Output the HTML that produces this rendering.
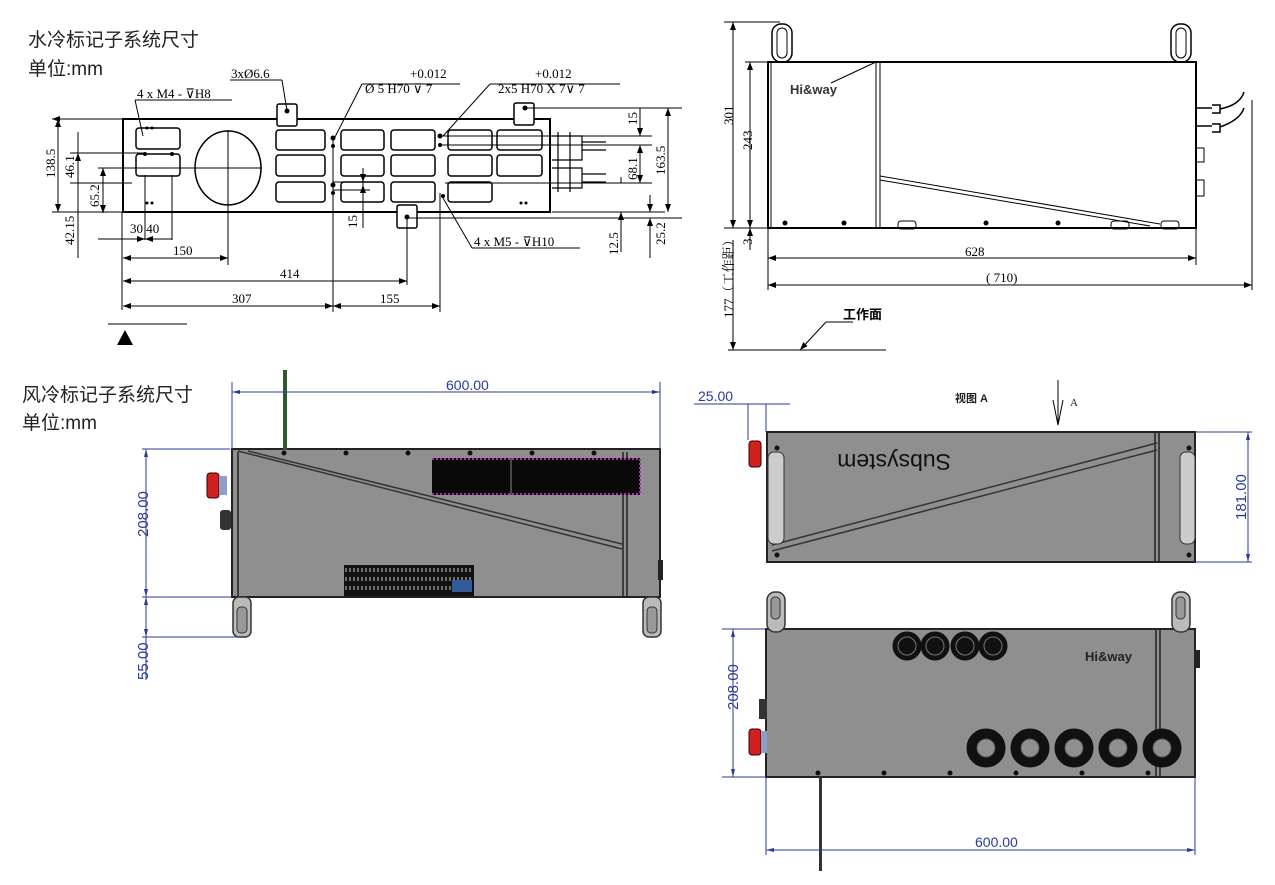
<!DOCTYPE html>
<html><head><meta charset="utf-8">
<style>
html,body{margin:0;padding:0;background:#fff;}
svg{display:block;}
.cn{font-family:"Liberation Sans","Noto Sans CJK SC",sans-serif;}
.sf{font-family:"Liberation Serif","Noto Serif CJK SC",serif;}
.bl{font-family:"Liberation Sans",sans-serif;fill:#2a3a9a;}
</style></head><body>
<svg width="1275" height="885" viewBox="0 0 1275 885" xmlns="http://www.w3.org/2000/svg">
<defs>
<marker id="ar" markerWidth="8" markerHeight="6" refX="8" refY="3" orient="auto-start-reverse"><path d="M0,0 L8,3 L0,6 z" fill="#000"/></marker>
<marker id="ab" markerWidth="8" markerHeight="6" refX="8" refY="3" orient="auto-start-reverse"><path d="M0,1 L8,3 L0,5 z" fill="#2a3a9a"/></marker>
</defs>

<!-- Titles -->
<text x="28" y="46" class="cn" font-size="19" fill="#222">水冷标记子系统尺寸</text>
<text x="28" y="75" class="cn" font-size="19" fill="#222">单位:mm</text>
<text x="22" y="401" class="cn" font-size="19" fill="#222">风冷标记子系统尺寸</text>
<text x="22" y="429" class="cn" font-size="19" fill="#222">单位:mm</text>

<!-- ===== TOP LEFT PLATE ===== -->
<g stroke="#000" fill="none" stroke-width="1">
<rect x="123" y="119" width="427" height="93" stroke-width="2"/>
<!-- left cells -->
<rect x="136" y="128" width="44" height="21" rx="3" stroke-width="1.5"/>
<rect x="136" y="154" width="44" height="22" rx="3" stroke-width="1.5"/>
<ellipse cx="228" cy="168" rx="33" ry="37" stroke-width="1.5"/>
<!-- grid cells -->
<g stroke-width="1.5">
<rect x="276" y="130" width="49" height="20" rx="3"/><rect x="341" y="130" width="43" height="20" rx="3"/><rect x="391" y="130" width="44" height="20" rx="3"/><rect x="448" y="130" width="44" height="20" rx="3"/><rect x="497" y="130" width="45" height="20" rx="3"/>
<rect x="276" y="155" width="49" height="21" rx="3"/><rect x="341" y="155" width="43" height="21" rx="3"/><rect x="391" y="155" width="44" height="21" rx="3"/><rect x="448" y="155" width="44" height="21" rx="3"/><rect x="497" y="155" width="45" height="21" rx="3"/>
<rect x="276" y="182" width="49" height="20" rx="3"/><rect x="341" y="182" width="43" height="20" rx="3"/><rect x="391" y="182" width="44" height="20" rx="3"/><rect x="448" y="182" width="44" height="20" rx="3"/>
</g>
<!-- tabs -->
<rect x="277" y="104" width="20" height="22" fill="#fff" stroke-width="1.5" rx="2"/>
<rect x="514" y="103" width="20" height="22" fill="#fff" stroke-width="1.5" rx="2"/>
<rect x="397" y="205" width="20" height="23" fill="#fff" stroke-width="1.5" rx="2"/>
<!-- connectors right -->
<path d="M552,136 h30 v24 h-30 M582,142 h24 M582,150 h24 M552,168 h30 v20 h-30 M582,174 h24 M582,182 h24 M558,132 v60 M570,132 v60" stroke-width="1.2"/>
<!-- center lines -->
<path d="M192,168 H262 M228,130 V206"/>
<!-- dimension lines -->
<path d="M52,119 H123 M52,212 H123 M58,119 V212" marker-start="url(#ar)" />
<path d="M58,119 V212" marker-start="url(#ar)" marker-end="url(#ar)"/>
<path d="M70,153 H145 M70,183 H132 M78,132 V258 M78,153 V212" />
<path d="M78,166 V153" marker-end="url(#ar)"/>
<path d="M98,168 H192 M103,168 V213"/>
<path d="M103,182 V168" marker-end="url(#ar)"/><path d="M103,200 V213" marker-end="url(#ar)"/>
<path d="M145,175 V240 M172,175 V240 M122,212 V310"/>
<path d="M98,239 H145" marker-end="url(#ar)"/><path d="M172,239 H145" marker-end="url(#ar)"/>
<path d="M123,258 H228" marker-start="url(#ar)" marker-end="url(#ar)"/><path d="M228,168 V265"/>
<path d="M123,281 H407" marker-start="url(#ar)" marker-end="url(#ar)"/><path d="M407,217 V285"/>
<path d="M123,306 H333" marker-start="url(#ar)" marker-end="url(#ar)"/>
<path d="M333,306 H440" marker-start="url(#ar)" marker-end="url(#ar)"/>
<path d="M333,138 V312 M440,193 V312"/>
<path d="M333,182 H370 M333,190 H370 M363,168 V228"/>
<path d="M363,200 V185" marker-end="url(#ar)"/><path d="M363,168 V182" marker-end="url(#ar)"/>
<!-- right dims -->
<path d="M525,108 H682 M440,136 H652 M440,145 H652 M445,183 H652 M408,218 H682 M552,212 H665"/>
<path d="M668,108 V212" marker-start="url(#ar)" marker-end="url(#ar)"/>
<path d="M640,108 V136" marker-end="url(#ar)"/><path d="M640,145 V183" marker-start="url(#ar)" marker-end="url(#ar)"/>
<path d="M650,195 V212" marker-end="url(#ar)"/><path d="M650,258 V218" marker-end="url(#ar)"/>
<path d="M621,177 V183" /><path d="M621,252 V212" marker-end="url(#ar)"/>
<!-- leaders -->
<path d="M135,100 H232 M135,100 L143,136"/>
<path d="M230,80 H282 M282,80 L287,111"/>
<path d="M362,84 H460 M362,84 L335,137"/>
<path d="M490,84 H620 M490,84 L443,136"/>
<path d="M472,248 H580 M472,248 L443,198"/>
<!-- base marker -->
<path d="M108,324 H187"/>
</g>
<polygon points="117,345 125,330 133,345" fill="#000"/>
<g fill="#000">
<circle cx="333" cy="138" r="2.5"/><circle cx="333" cy="146" r="2"/><circle cx="333" cy="185" r="2.5"/><circle cx="333" cy="193" r="2"/>
<circle cx="440" cy="136" r="2.5"/><circle cx="440" cy="145" r="2"/><circle cx="443" cy="196" r="2"/>
<circle cx="145" cy="154" r="2"/><circle cx="172" cy="154" r="2"/><circle cx="287" cy="111" r="2.5"/><circle cx="525" cy="108" r="2.5"/><circle cx="407" cy="217" r="2.5"/>
<circle cx="147" cy="128" r="1.5"/><circle cx="152" cy="128" r="1.5"/><circle cx="147" cy="203" r="1.5"/><circle cx="152" cy="203" r="1.5"/><circle cx="521" cy="203" r="1.5"/><circle cx="526" cy="203" r="1.5"/>
</g>
<g class="sf" font-size="13" fill="#000">
<text x="137" y="98">4 x  M4 - ⊽H8</text>
<text x="231" y="78">3xØ6.6</text>
<text x="410" y="78">+0.012</text>
<text x="365" y="93">Ø 5 H70   ⊽ 7</text>
<text x="535" y="78">+0.012</text>
<text x="498" y="93">2x5 H70   X 7⊽ 7</text>
<text x="474" y="246">4 x  M5 - ⊽H10</text>
<text x="130" y="233">30 40</text>
<text x="173" y="255">150</text>
<text x="280" y="278">414</text>
<text x="232" y="303">307</text>
<text x="380" y="303">155</text>
<g font-size="13">
<text transform="translate(55,178) rotate(-90)">138.5</text>
<text transform="translate(74,178) rotate(-90)">46.1</text>
<text transform="translate(99,207) rotate(-90)">65.2</text>
<text transform="translate(74,245) rotate(-90)">42.15</text>
<text transform="translate(357,228) rotate(-90)">15</text>
<text transform="translate(637,125) rotate(-90)">15</text>
<text transform="translate(637,180) rotate(-90)">68.1</text>
<text transform="translate(665,175) rotate(-90)">163.5</text>
<text transform="translate(618,255) rotate(-90)">12.5</text>
<text transform="translate(665,245) rotate(-90)">25.2</text>
</g>
</g>

<!-- ===== TOP RIGHT SIDE VIEW ===== -->
<g stroke="#000" fill="none" stroke-width="1">
<rect x="768" y="62" width="428" height="166" stroke-width="2"/>
<path d="M771,62 V228 M876,62 V228 M880,62 V228"/>
<path d="M880,176 L1160,224 M880,180 L1150,226"/>
<path d="M831,83 L876,62"/>
<rect x="772" y="24" width="20" height="38" rx="9" stroke-width="1.5"/><rect x="777" y="28" width="10" height="30" rx="5"/>
<rect x="1171" y="24" width="20" height="38" rx="9" stroke-width="1.5"/><rect x="1176" y="28" width="10" height="30" rx="5"/>
<rect x="898" y="221" width="18" height="8" rx="3"/><rect x="1111" y="221" width="18" height="8" rx="3" />
<rect x="1161" y="221" width="18" height="8" rx="3"/>
<path d="M1196,108 H1212 M1196,126 H1212 M1212,105 h8 v8 h-8 M1212,124 h8 v8 h-8 M1220,109 Q1240,105 1244,92 M1220,127 Q1240,120 1244,108" stroke-width="1.5"/>
<rect x="1196" y="148" width="8" height="14"/><rect x="1196" y="180" width="8" height="16"/>
<!-- dims -->
<path d="M724,22 H780 M724,228 H768 M745,62 H768 M728,350 H886"/>
<path d="M733,22 V228" marker-start="url(#ar)" marker-end="url(#ar)"/>
<path d="M750,62 V228" marker-start="url(#ar)" marker-end="url(#ar)"/>
<path d="M733,240 V350" marker-end="url(#ar)"/>
<path d="M750,250 V228" marker-end="url(#ar)"/>
<path d="M768,228 V290 M1196,228 V265 M1252,100 V290"/>
<path d="M768,258 H1196" marker-start="url(#ar)" marker-end="url(#ar)"/>
<path d="M768,285 H1252" marker-start="url(#ar)" marker-end="url(#ar)"/>
<path d="M826,322 H853 M826,322 L800,350" marker-end="url(#ar)"/>
</g>
<g fill="#000"><circle cx="785" cy="223" r="2.5"/><circle cx="844" cy="223" r="2.5"/><circle cx="986" cy="223" r="2.5"/><circle cx="1058" cy="223" r="2.5"/></g>
<text x="790" y="94" class="cn" font-size="13" font-weight="bold" fill="#333">Hi&amp;way</text>
<g class="sf" font-size="13" fill="#000">
<text transform="translate(733,125) rotate(-90)">301</text>
<text transform="translate(752,150) rotate(-90)">243</text>
<text transform="translate(752,245) rotate(-90)">3</text>
<text transform="translate(733,318) rotate(-90)">177（工作距）</text>
<text x="965" y="256">628</text>
<text x="986" y="282">( 710)</text>
</g>
<text x="843" y="319" class="cn" font-size="13" font-weight="bold" fill="#000">工作面</text>

<!-- ===== BOTTOM LEFT AIR COOLED SIDE ===== -->
<rect x="232" y="449" width="428" height="148" fill="#8f8f8f" stroke="#222" stroke-width="2"/>
<path d="M238,452 V597 M623,452 V597 M627,452 V597" stroke="#222" stroke-width="1.5"/>
<path d="M238,451 L622,549 M248,451 L622,544" stroke="#333" stroke-width="1.5"/>
<rect x="432" y="458" width="208" height="37" fill="#0a0a0a"/>
<path d="M432,459 H640 M432,494 H640" stroke="#b030b0" stroke-width="2" stroke-dasharray="2 2"/>
<path d="M640,459 V494" stroke="#b030b0" stroke-width="2" stroke-dasharray="2 2"/>
<path d="M511,458 V495" stroke="#888" stroke-width="1"/>
<rect x="344" y="565" width="130" height="31" fill="#111"/>
<path d="M346,568 V594 M350,568 V594 M354,568 V594 M358,568 V594 M362,568 V594 M366,568 V594 M370,568 V594 M374,568 V594 M378,568 V594 M382,568 V594 M386,568 V594 M390,568 V594 M394,568 V594 M398,568 V594 M402,568 V594 M406,568 V594 M410,568 V594 M414,568 V594 M418,568 V594 M422,568 V594 M426,568 V594 M430,568 V594 M434,568 V594 M438,568 V594 M442,568 V594 M446,568 V594 M450,568 V594 M454,568 V594 M458,568 V594 M462,568 V594 M466,568 V594 M470,568 V594" stroke="#ccc" stroke-width="1" stroke-dasharray="4 5"/>
<rect x="452" y="580" width="20" height="12" fill="#335a99"/>
<rect x="283" y="370" width="4" height="80" fill="#2f5a2f"/>
<g fill="#111"><circle cx="284" cy="453" r="2.5"/><circle cx="346" cy="453" r="2.5"/><circle cx="408" cy="453" r="2.5"/><circle cx="470" cy="453" r="2.5"/><circle cx="532" cy="453" r="2.5"/><circle cx="594" cy="453" r="2.5"/></g>
<rect x="207" y="473" width="12" height="25" rx="3" fill="#d0201f" stroke="#300" stroke-width="1"/>
<rect x="219" y="476" width="8" height="19" fill="#8aa0c8"/>
<rect x="220" y="510" width="11" height="20" rx="3" fill="#333"/>
<rect x="658" y="560" width="5" height="20" fill="#222"/>
<g fill="#bbb" stroke="#333" stroke-width="1.5">
<rect x="233" y="597" width="18" height="40" rx="6"/><rect x="643" y="597" width="18" height="40" rx="6"/></g>
<g fill="#999" stroke="#333"><rect x="237" y="607" width="10" height="26" rx="4"/><rect x="647" y="607" width="10" height="26" rx="4"/></g>
<g stroke="#2a3a9a" fill="none" stroke-width="1">
<path d="M232,382 V449 M660,382 V449"/>
<path d="M232,392 H660" marker-start="url(#ab)" marker-end="url(#ab)"/>
<path d="M142,449 H230 M142,597 H232 M142,637 H240"/>
<path d="M146,449 V597" marker-start="url(#ab)" marker-end="url(#ab)"/>
<path d="M146,597 V637" marker-start="url(#ab)" marker-end="url(#ab)"/>
<path d="M146,637 V680"/>
</g>
<text x="446" y="390" class="bl" font-size="14">600.00</text>
<text transform="translate(148,537) rotate(-90)" class="bl" font-size="15">208.00</text>
<text transform="translate(148,680) rotate(-90)" class="bl" font-size="15">55.00</text>

<!-- ===== RIGHT MIDDLE VIEW A ===== -->
<rect x="767" y="432" width="428" height="130" fill="#8f8f8f" stroke="#222" stroke-width="2"/>
<path d="M1155,432 V562 M1159,432 V562" stroke="#222" stroke-width="1.5"/>
<path d="M772,545 L1157,443 M772,551 L1157,450" stroke="#333" stroke-width="1.5"/>
<g fill="#ccc" stroke="#333" stroke-width="1"><rect x="768" y="452" width="16" height="92" rx="6"/><rect x="1180" y="452" width="15" height="92" rx="6"/></g>
<g fill="#111"><circle cx="777" cy="448" r="2.5"/><circle cx="777" cy="555" r="2.5"/><circle cx="1189" cy="448" r="2.5"/><circle cx="1189" cy="555" r="2.5"/></g>
<rect x="749" y="441" width="12" height="26" rx="3" fill="#d0201f" stroke="#300"/>
<text transform="translate(951,454) rotate(180)" class="cn" font-size="23" fill="#111">Subsystem</text>
<text x="955" y="402" class="cn" font-size="11" font-weight="bold" fill="#222">视图 A</text>
<text x="1070" y="406" class="sf" font-size="11" fill="#222">A</text>
<path d="M1058,380 V422" stroke="#000" stroke-width="1"/>
<path d="M1053,400 L1058,425 L1063,400" fill="none" stroke="#000"/>
<g stroke="#2a3a9a" fill="none">
<path d="M694,404 H790"/>
<path d="M748,404 V440 M766,404 V432"/>
<path d="M1195,432 H1252 M1195,562 H1252"/>
<path d="M1248,432 V562" marker-start="url(#ab)" marker-end="url(#ab)"/>
</g>
<text x="698" y="401" class="bl" font-size="14">25.00</text>
<text transform="translate(1246,520) rotate(-90)" class="bl" font-size="15">181.00</text>

<!-- ===== BOTTOM RIGHT FRONT ===== -->
<rect x="766" y="629" width="429" height="148" fill="#8f8f8f" stroke="#222" stroke-width="2"/>
<path d="M1156,629 V777 M1160,629 V777" stroke="#222" stroke-width="1.5"/>
<g fill="#bbb" stroke="#333" stroke-width="1.5"><rect x="767" y="592" width="18" height="40" rx="8"/><rect x="1172" y="592" width="18" height="40" rx="8"/></g>
<g fill="#999" stroke="#333"><rect x="771" y="597" width="9" height="22" rx="4"/><rect x="1176" y="597" width="9" height="22" rx="4"/></g>
<g fill="#111" stroke="#111">
<circle cx="907" cy="646" r="14"/><circle cx="935" cy="646" r="14"/><circle cx="965" cy="646" r="14"/><circle cx="993" cy="646" r="14"/>
<circle cx="986" cy="748" r="19"/><circle cx="1030" cy="748" r="19"/><circle cx="1074" cy="748" r="19"/><circle cx="1118" cy="748" r="19"/><circle cx="1162" cy="748" r="19"/>
</g>
<g fill="none" stroke="#777" stroke-width="1">
<circle cx="907" cy="646" r="9"/><circle cx="935" cy="646" r="9"/><circle cx="965" cy="646" r="9"/><circle cx="993" cy="646" r="9"/>
</g>
<g fill="#8f8f8f" stroke="#555">
<circle cx="986" cy="748" r="9"/><circle cx="1030" cy="748" r="9"/><circle cx="1074" cy="748" r="9"/><circle cx="1118" cy="748" r="9"/><circle cx="1162" cy="748" r="9"/>
</g>
<g fill="#111"><circle cx="818" cy="773" r="2.5"/><circle cx="884" cy="773" r="2.5"/><circle cx="950" cy="773" r="2.5"/><circle cx="1016" cy="773" r="2.5"/><circle cx="1082" cy="773" r="2.5"/><circle cx="1148" cy="773" r="2.5"/></g>
<text x="1085" y="661" class="cn" font-size="13" font-weight="bold" fill="#222">Hi&amp;way</text>
<rect x="1195" y="650" width="5" height="18" fill="#222"/>
<rect x="759" y="699" width="8" height="20" fill="#333"/>
<rect x="749" y="729" width="12" height="26" rx="3" fill="#d0201f" stroke="#300"/>
<rect x="761" y="731" width="6" height="22" fill="#8aa0c8"/>
<rect x="819" y="777" width="3" height="94" fill="#333"/>
<g stroke="#2a3a9a" fill="none">
<path d="M722,629 H766 M722,777 H766"/>
<path d="M733,629 V777" marker-start="url(#ab)" marker-end="url(#ab)"/>
<path d="M766,777 V855 M1195,777 V855"/>
<path d="M766,850 H1195" marker-start="url(#ab)" marker-end="url(#ab)"/>
</g>
<text transform="translate(738,710) rotate(-90)" class="bl" font-size="15">208.00</text>
<text x="975" y="847" class="bl" font-size="14">600.00</text>
</svg>
</body></html>
